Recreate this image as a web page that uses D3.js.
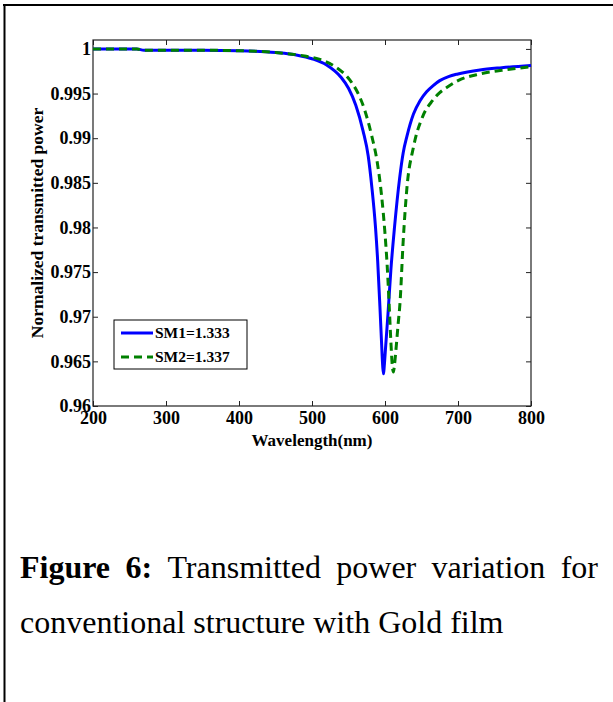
<!DOCTYPE html>
<html>
<head>
<meta charset="utf-8">
<script src="https://cdn.jsdelivr.net/npm/d3@7"></script>
<style>
  body { margin: 0; background: #fff; }
  text { font-family: "Liberation Serif", "Times New Roman", serif; }
</style>
</head>
<body>
<div id="chart"></div>
<script>
// wavelength (nm) / normalized transmitted power
var sm1Wave = [200, 260, 270, 350, 400, 450, 480, 500, 520, 540, 550, 560, 570, 577, 582, 587, 590, 593, 595, 597, 598, 599, 601, 604, 608, 613, 620, 625, 630, 639, 648, 657, 666, 675, 687, 700, 730, 760, 800];
var sm1Power = [1.0000, 1.0000, 0.99985, 0.99985, 0.9998, 0.9996, 0.9993, 0.9989, 0.9982, 0.9968, 0.9956, 0.9937, 0.9908, 0.9880, 0.9845, 0.9800, 0.9762, 0.9712, 0.9676, 0.9643, 0.9636, 0.9645, 0.9668, 0.9702, 0.9752, 0.9800, 0.9855, 0.9884, 0.9902, 0.9927, 0.9942, 0.9952, 0.9959, 0.99645, 0.9969, 0.9972, 0.99765, 0.9979, 0.99815];

var sm2Wave = [200, 260, 270, 350, 400, 450, 490, 512, 532, 552, 562, 572, 582, 589, 595, 600, 603, 606, 608, 610, 611.5, 613, 615, 618, 620.5, 625, 630, 639, 652, 665, 675, 685, 700, 730, 760, 800];
var sm2Power = [1.0000, 1.0000, 0.99985, 0.99985, 0.9998, 0.9996, 0.9992, 0.9988, 0.9980, 0.9965, 0.9952, 0.9932, 0.9902, 0.9875, 0.9838, 0.9793, 0.9757, 0.9708, 0.9673, 0.9645, 0.9638, 0.9646, 0.9663, 0.9692, 0.9715, 0.9786, 0.9844, 0.9890, 0.9925, 0.9942, 0.9951, 0.9957, 0.99645, 0.9972, 0.9976, 0.9980];

var xTicks = [200, 300, 400, 500, 600, 700, 800];
var yTicks = [0.96, 0.965, 0.97, 0.975, 0.98, 0.985, 0.99, 0.995, 1];
var legendNames = ["SM1=1.333", "SM2=1.337"];

var W = 613, H = 702;
var margin = {top: 40, left: 93},
    width = 438,
    height = 366;

var svg = d3.select("#chart").append("svg")
  .attr("width", W).attr("height", H);

// page frame (top and left edges)
svg.append("line").attr("x1", 3).attr("x2", W).attr("y1", 5).attr("y2", 5)
  .attr("stroke", "#000").attr("stroke-width", 2);
svg.append("line").attr("x1", 4.5).attr("x2", 4.5).attr("y1", 4).attr("y2", H)
  .attr("stroke", "#000").attr("stroke-width", 2);

var x = d3.scaleLinear().domain([200, 800]).range([0, width]);
var y = d3.scaleLinear().domain([0.96, 1.001]).range([height, 0]);

var g = svg.append("g")
  .attr("transform", "translate(" + margin.left + "," + margin.top + ")");

function fmt(v) { return String(+v.toFixed(3)); }

var gx = g.append("g")
  .attr("transform", "translate(0," + height + ")")
  .call(d3.axisBottom(x).tickValues(xTicks).tickSizeInner(-5).tickSizeOuter(0).tickPadding(5).tickFormat(fmt));
var gy = g.append("g")
  .call(d3.axisLeft(y).tickValues(yTicks).tickSizeInner(-5).tickSizeOuter(0).tickPadding(2).tickFormat(fmt));
g.append("g")
  .call(d3.axisTop(x).tickValues(xTicks).tickSizeInner(-5).tickSizeOuter(0).tickFormat(""));
g.append("g")
  .attr("transform", "translate(" + width + ",0)")
  .call(d3.axisRight(y).tickValues(yTicks).tickSizeInner(-5).tickSizeOuter(0).tickFormat(""));

g.selectAll(".domain").remove();
g.selectAll(".tick line").attr("stroke", "#222");
[gx, gy].forEach(function(a) {
  a.selectAll("text")
    .attr("font-family", "Liberation Serif, Times New Roman, serif")
    .attr("font-weight", "bold")
    .attr("font-size", 18)
    .attr("fill", "#000");
});

g.append("rect")
  .attr("width", width).attr("height", height)
  .attr("fill", "none").attr("stroke", "#222").attr("stroke-width", 1.2);

var line = d3.line()
  .x(function(d) { return x(d[0]); })
  .y(function(d) { return y(d[1]); })
  .curve(d3.curveMonotoneX);

var sm1 = d3.zip(sm1Wave, sm1Power);
var sm2 = d3.zip(sm2Wave, sm2Power);

g.append("path").datum(sm1)
  .attr("d", line).attr("fill", "none")
  .attr("stroke", "#0000ff").attr("stroke-width", 3);
g.append("path").datum(sm2)
  .attr("d", line).attr("fill", "none")
  .attr("stroke", "#008000").attr("stroke-width", 3)
  .attr("stroke-dasharray", "8,5");

// axis titles
svg.append("text")
  .attr("x", 312).attr("y", 446)
  .attr("text-anchor", "middle")
  .attr("font-weight", "bold").attr("font-size", 17)
  .text("Wavelength(nm)");
svg.append("text")
  .attr("transform", "translate(43,223) rotate(-90)")
  .attr("text-anchor", "middle")
  .attr("font-weight", "bold").attr("font-size", 17.5)
  .text("Normalized transmitted power");

// legend
var leg = svg.append("g").attr("transform", "translate(114,320)");
leg.append("rect").attr("width", 133).attr("height", 49)
  .attr("fill", "#fff").attr("stroke", "#000").attr("stroke-width", 1);
var legStyles = [{c: "#0000ff", d: null}, {c: "#008000", d: "8,5"}];
legendNames.forEach(function(name, i) {
  var yy = 13 + i * 24;
  leg.append("line").attr("x1", 7).attr("x2", 39).attr("y1", yy).attr("y2", yy)
    .attr("stroke", legStyles[i].c).attr("stroke-width", 3)
    .attr("stroke-dasharray", legStyles[i].d);
  leg.append("text")
    .attr("x", 41).attr("y", yy + 5)
    .attr("font-weight", "bold").attr("font-size", 15.5)
    .text(name);
});

// caption, first line justified
var capSize = 32;
var line1 = [
  {t: "Figure", b: true}, {t: "6:", b: true},
  {t: "Transmitted"}, {t: "power"}, {t: "variation"}, {t: "for"}
];
var cap = svg.append("g");
var words = line1.map(function(w) {
  var t = cap.append("text")
    .attr("font-size", capSize)
    .attr("font-weight", w.b ? "bold" : "normal")
    .text(w.t);
  return {node: t, w: t.node().getComputedTextLength()};
});
var total = d3.sum(words, function(d) { return d.w; });
var gap = (598 - 20 - total) / (words.length - 1);
var cx = 20;
words.forEach(function(d) {
  d.node.attr("x", cx).attr("y", 578);
  cx += d.w + gap;
});
cap.append("text")
  .attr("x", 20).attr("y", 633)
  .attr("font-size", capSize)
  .text("conventional structure with Gold film");
</script>
</body>
</html>
